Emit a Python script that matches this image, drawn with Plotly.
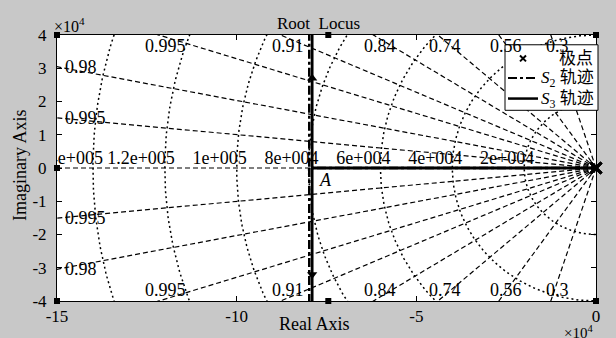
import numpy as np
import plotly.graph_objects as go

# Axis limits (real and imaginary parts, rad/s)
x_range = [-150000, 0]
y_range = [-40000, 40000]

# Axis ticks
x_tickvals = [-150000, -100000, -50000, 0]
x_ticktext = ["-15", "-10", "-5", "0"]
y_tickvals = [-40000, -30000, -20000, -10000, 0, 10000, 20000, 30000, 40000]
y_ticktext = ["-4", "-3", "-2", "-1", "0", "1", "2", "3", "4"]

# s-plane grid: constant damping ratio rays and their labels
zeta_values = [0.3, 0.56, 0.74, 0.84, 0.91, 0.95, 0.98, 0.995]
zeta_labels = ["0.3", "0.56", "0.74", "0.84", "0.91", "0.995", "0.98", "0.995"]

# s-plane grid: constant natural frequency arcs and their labels
wn_values = [20000, 40000, 60000, 80000, 100000, 120000, 140000]
wn_labels = ["2e+004", "4e+004", "6e+004", "8e+004", "1e+005", "1.2e+005", "1.4e+005"]

# Root locus branches: breakaway point on the real axis, then vertical asymptote
s2_breakaway = -79800
s3_breakaway = -79000
poles_re = [0, 0, 0]
poles_im = [0, 0, 0]
# Direction arrows on the S3 branches (imaginary part)
arrow_up_im = 27000
arrow_down_im = -32000
# Branch end points at the axis limits
end_re = [-150000, -150000, -150000, 0, 0, -74500, -74500]
end_im = [40000, 0, -40000, 40000, -40000, 40000, -40000]

# Legend entries
legend_labels = ["极点", "<i>S</i><sub>2</sub> 轨迹", "<i>S</i><sub>3</sub> 轨迹"]

SERIF = "Liberation Serif"
SERIF_CJK = "Liberation Serif, Noto Sans CJK SC"
FS = 17
FS_LAB = 18

# plot-area geometry in pixels, used to place the boxed legend
PX_L, PX_R, PX_T, PX_B = 57, 596, 35, 307


def px(xp):
    return (xp - PX_L) / (PX_R - PX_L)


def py(yp):
    return (PX_B - yp) / (PX_B - PX_T)


fig = go.Figure()

# --- grid: damping rays (dashed) ---
ray_len = 400000
gx, gy = [], []
for z in zeta_values:
    wd = np.sqrt(1 - z * z)
    for sgn in (1, -1):
        gx += [0, -z * ray_len, None]
        gy += [0, sgn * wd * ray_len, None]
gx += [x_range[0], x_range[1], None]
gy += [0, 0, None]
fig.add_trace(go.Scatter(x=gx, y=gy, mode="lines", showlegend=False, hoverinfo="skip",
                         line=dict(color="black", width=1.2, dash="5px,3px")))

# --- grid: natural frequency arcs (dotted) ---
theta = np.linspace(np.pi / 2, 3 * np.pi / 2, 361)
cx, cy = [], []
for wn in wn_values:
    cx += list(wn * np.cos(theta)) + [None]
    cy += list(wn * np.sin(theta)) + [None]
fig.add_trace(go.Scatter(x=cx, y=cy, mode="lines", showlegend=False, hoverinfo="skip",
                         line=dict(color="black", width=1.5, dash="2px,3px")))

# natural frequency labels on the negative real axis (clipped by the axes box)
fig.add_trace(go.Scatter(x=[-w + 2800 for w in wn_values], y=[0] * len(wn_values),
                         mode="text", text=wn_labels, textposition="top left",
                         textfont=dict(family=SERIF, size=FS_LAB, color="black"),
                         showlegend=False, hoverinfo="skip", cliponaxis=True))

# damping labels where each ray leaves the axes box
ann = []
for z, lab in zip(zeta_values, zeta_labels):
    slope = np.sqrt(1 - z * z) / z
    y_left = slope * (-x_range[0])
    for sgn in (1, -1):
        if y_left <= y_range[1]:
            ann.append(dict(x=x_range[0], y=sgn * y_left, text=lab, xanchor="left",
                            yanchor="middle", xshift=6, showarrow=False,
                            font=dict(family=SERIF, size=FS_LAB, color="black")))
        else:
            xe = -y_range[1] / slope
            ann.append(dict(x=xe, y=sgn * 36800, text=lab, xanchor="center",
                            yanchor="middle", xshift=7, showarrow=False,
                            font=dict(family=SERIF, size=FS_LAB, color="black")))

# --- root locus ---
fig.add_trace(go.Scatter(x=poles_re, y=poles_im, mode="markers", name="极点",
                         showlegend=False,
                         marker=dict(symbol="x-thin", size=11, color="black",
                                     line=dict(color="black", width=3)),
                         cliponaxis=False))

s2x = [0, s2_breakaway, s2_breakaway, None, s2_breakaway, s2_breakaway]
s2y = [0, 0, y_range[1], None, 0, y_range[0]]
fig.add_trace(go.Scatter(x=s2x, y=s2y, mode="lines", name="S2", showlegend=False,
                         line=dict(color="black", width=2.5, dash="dashdot")))

s3x = [0, s3_breakaway, s3_breakaway, None, s3_breakaway, s3_breakaway]
s3y = [0, 0, y_range[1], None, 0, y_range[0]]
fig.add_trace(go.Scatter(x=s3x, y=s3y, mode="lines", name="S3", showlegend=False,
                         line=dict(color="black", width=2.8)))

fig.add_trace(go.Scatter(x=[s3_breakaway, s3_breakaway], y=[arrow_up_im, arrow_down_im],
                         mode="markers", showlegend=False, hoverinfo="skip",
                         marker=dict(symbol=["triangle-up", "triangle-down"], size=9,
                                     color="black")))

fig.add_trace(go.Scatter(x=end_re, y=end_im, mode="markers", showlegend=False,
                         hoverinfo="skip", cliponaxis=False,
                         marker=dict(symbol="square", size=6, color="black")))

# point A at the breakaway
ann.append(dict(x=-75400, y=-3500, text="<i>A</i>", showarrow=False,
                font=dict(family=SERIF, size=FS_LAB, color="black")))

# titles and exponent labels
ann += [
    dict(xref="paper", yref="paper", x=0.486, y=1.044, text="Root  Locus",
         showarrow=False, xanchor="center", yanchor="middle"),
    dict(xref="paper", yref="paper", x=0.477, y=-0.085, text="Real Axis",
         showarrow=False, xanchor="center", yanchor="middle",
         font=dict(family=SERIF, size=18, color="black")),
    dict(xref="paper", yref="paper", x=-0.069, y=0.511, text="Imaginary Axis",
         showarrow=False, xanchor="center", yanchor="middle", textangle=-90,
         font=dict(family=SERIF, size=18, color="black")),
    dict(xref="paper", yref="paper", x=-0.009, y=1.037, text="×10<sup>4</sup>",
         showarrow=False, xanchor="left", yanchor="middle",
         font=dict(family=SERIF, size=16, color="black")),
    dict(xref="paper", yref="paper", x=0.937, y=-0.074, text="×10<sup>4</sup>",
         showarrow=False, xanchor="left", yanchor="top",
         font=dict(family=SERIF, size=15, color="black")),
]

# --- boxed legend drawn on top of the axes ---
shapes = [
    dict(type="rect", xref="paper", yref="paper", x0=px(505), x1=px(598),
         y0=py(112), y1=py(45), fillcolor="white", line=dict(color="black", width=1),
         layer="above"),
    # pole symbol
    dict(type="line", xref="paper", yref="paper", x0=px(520), x1=px(526),
         y0=py(56), y1=py(62), line=dict(color="black", width=2), layer="above"),
    dict(type="line", xref="paper", yref="paper", x0=px(520), x1=px(526),
         y0=py(62), y1=py(56), line=dict(color="black", width=2), layer="above"),
    # S2 sample
    dict(type="line", xref="paper", yref="paper", x0=px(508), x1=px(538),
         y0=py(79), y1=py(79), line=dict(color="black", width=2, dash="dashdot"),
         layer="above"),
    # S3 sample
    dict(type="line", xref="paper", yref="paper", x0=px(508), x1=px(538),
         y0=py(100), y1=py(100), line=dict(color="black", width=2.5), layer="above"),
]
ann += [
    dict(xref="paper", yref="paper", x=px(557), y=py(59), text=legend_labels[0],
         showarrow=False, xanchor="left", yanchor="middle",
         font=dict(family=SERIF_CJK, size=17, color="black")),
    dict(xref="paper", yref="paper", x=px(539), y=py(80), text=legend_labels[1],
         showarrow=False, xanchor="left", yanchor="middle",
         font=dict(family=SERIF_CJK, size=17, color="black")),
    dict(xref="paper", yref="paper", x=px(539), y=py(101), text=legend_labels[2],
         showarrow=False, xanchor="left", yanchor="middle",
         font=dict(family=SERIF_CJK, size=17, color="black")),
]

for a in ann:
    a.setdefault("font", dict(family=SERIF, size=FS, color="black"))

axis_common = dict(showline=True, linecolor="black", linewidth=1, mirror="ticks",
                   ticks="inside", ticklen=5, tickwidth=1, tickcolor="black",
                   showgrid=False, zeroline=False,
                   tickfont=dict(family=SERIF, size=FS, color="black"))

fig.update_layout(
    width=616, height=338,
    margin=dict(l=PX_L, r=616 - PX_R, t=PX_T, b=338 - PX_B),
    paper_bgcolor="#c8c8c8", plot_bgcolor="white",
    font=dict(family=SERIF, size=FS, color="black"),
    xaxis=dict(range=x_range, tickvals=x_tickvals, ticktext=x_ticktext, **axis_common),
    yaxis=dict(range=y_range, tickvals=y_tickvals, ticktext=y_ticktext,
               ticklabelstandoff=6, **axis_common),
    annotations=ann,
    shapes=shapes,
    showlegend=False,
)

fig.write_html("out.html")
